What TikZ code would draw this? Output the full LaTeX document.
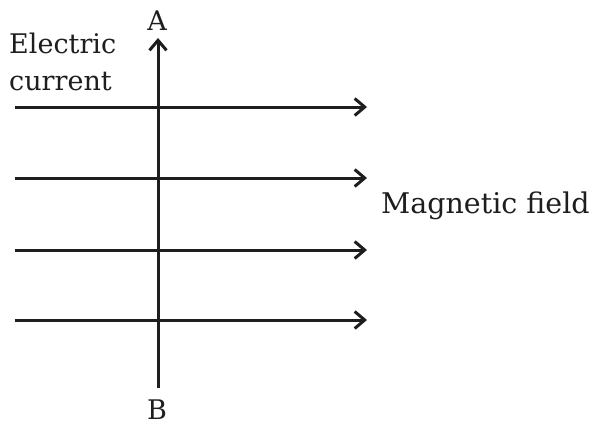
\documentclass[tikz,border=0pt]{standalone}
\usepackage{fontspec}
\setmainfont{DejaVu Serif}
\usetikzlibrary{arrows.meta}
\definecolor{ink}{HTML}{1E1E1E}
\begin{document}
\begin{tikzpicture}[x=1pt,y=-1pt,
  wire/.style={line width=3pt,draw=ink},
  tipped/.style={-{Straight Barb[length=10pt,width=17pt,line width=3pt]}},
  lbl/.style={font=\fontsize{27}{32}\selectfont,text=ink,inner sep=0pt}]
\fill[white] (0,0) rectangle (595,426);
\useasboundingbox (0,0) rectangle (595,426);
% labels
\node[lbl,anchor=base] (A) at (157,30) {A};
\node[lbl,anchor=base] (B) at (157,419) {B};
\node[lbl,anchor=base west] (el) at (9,53) {Electric};
\node[lbl,anchor=base west] (cu) at (9,90) {current};
\node[lbl,anchor=base west,font=\fontsize{28.5}{32}\selectfont] (mf) at (381,213) {Magnetic field};
% conductor
\coordinate (bot) at (158,388);
\coordinate (top) at (158,38);
\draw[wire,tipped] (bot) -- (top);
% field lines
\foreach \i/\y in {1/107,2/178,3/250,4/320}{
  \coordinate (L\i) at (15,\y);
  \coordinate (R\i) at (367,\y);
  \draw[wire,tipped] (L\i) -- (R\i);
}
\end{tikzpicture}
\end{document}
